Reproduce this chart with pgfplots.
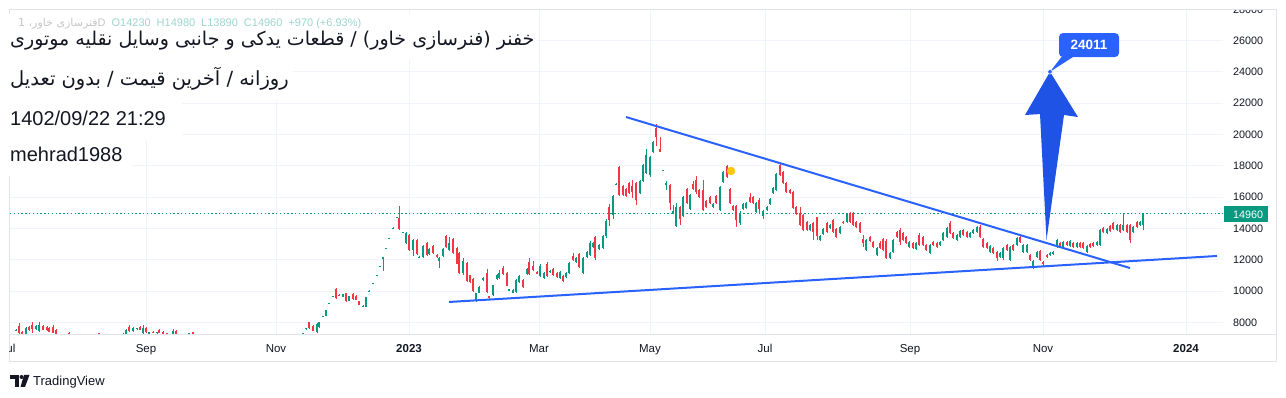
\documentclass[border=0pt]{standalone}
\usepackage{pgfplots}
\pgfplotsset{compat=1.18}
\usepackage{pgfplotstable}
\usepackage{fontspec}
\setmainfont{Liberation Sans}
\newfontfamily\fa[Script=Arabic]{DejaVu Sans}
\TeXXeTstate=1
\definecolor{tvgreen}{HTML}{089981}
\definecolor{tvred}{HTML}{F23645}
\definecolor{tvblue}{HTML}{2962FF}
\definecolor{arrowblue}{HTML}{1E53E5}
\definecolor{gridc}{HTML}{F0F3FA}
\definecolor{framec}{HTML}{E0E3EB}
\definecolor{txt}{HTML}{131722}
\definecolor{dotyellow}{HTML}{F9C80E}

\pgfplotstableread{
x o h l c
16 7490 7560 7460 7530
26 7190 7690 7150 7640
36 7560 7830 7500 7770
39 7450 8000 7380 7830
123 7200 7310 7150 7280
126 7200 7560 7150 7500
133 7420 7700 7380 7640
137 7600 7660 7550 7620
143 7300 7800 7250 7640
149 7190 7400 7150 7380
157 7320 7400 7290 7380
173 7190 7550 7150 7450
189 7190 7330 7150 7300
303 7190 7320 7150 7300
306 7600 7650 7560 7640
317 7380 7960 7300 7900
319 7700 8030 7650 8000
323 8360 8420 8340 8400
326 8400 8800 8380 8780
329 9200 9250 9180 9240
333 9660 9700 9640 9680
343 9620 9820 9600 9800
349 9370 9700 9350 9680
363 8990 9100 8980 9060
366 8990 9650 8980 9620
369 10000 10050 9980 10030
373 10500 10540 10480 10520
377 11000 11050 10980 11030
380 11570 11620 11550 11600
383 12100 12180 11280 12170
386 12730 12780 12710 12760
389 13380 13420 13360 13400
393 14010 14060 13990 14040
397 14700 14750 14680 14730
403 13750 13800 13730 13780
406 13060 13760 13000 13700
413 12620 13320 12240 13260
419 12150 12220 12100 12200
423 12170 12950 12100 12880
429 12360 12750 12300 12680
439 11920 12150 11470 12110
443 12240 12750 12180 12680
449 12620 13450 12550 13100
463 11150 12100 11000 11950
476 9360 9900 9300 9870
479 9900 10300 9880 10260
483 10700 10900 10650 10830
493 9750 10400 9700 10380
497 10770 11100 10700 11020
499 10830 11350 10800 11150
509 10040 10120 10000 10100
513 9870 10100 9850 10060
516 9940 10750 9900 10700
519 10570 11000 10500 10960
527 11080 11450 11000 11400
540 10960 11700 10900 11600
544 10830 11200 10780 11150
550 11200 11350 11150 11300
560 10830 11260 10780 11210
566 10900 11200 10850 11150
569 11150 11850 11100 11790
576 11850 12150 11800 12110
583 11150 12170 11100 12110
587 12170 12550 12120 12490
590 12300 13200 12250 13060
593 12810 13130 12760 13070
599 12680 13000 12630 12940
603 12750 13580 12700 13510
606 13510 14600 13400 14470
613 14860 16130 14600 16070
616 16820 16900 16780 16860
640 16250 17100 16200 17030
643 17030 18100 16980 18050
646 17550 19100 17500 18680
650 17400 18600 17300 18560
653 18880 19580 18820 19520
663 17700 17760 17680 17740
666 16770 17000 16450 16900
673 15000 15500 14900 15100
676 14150 15650 14100 15370
683 14800 16050 14750 16000
690 15240 16200 15180 16130
713 15370 15620 15300 15560
720 15170 16720 15100 16650
723 16960 17650 16900 17600
740 14350 15100 14200 14990
743 15240 15620 15180 15560
746 15300 15690 15250 15620
756 15040 15700 14980 15620
763 14800 15150 14600 15100
767 15170 15430 15100 15370
770 15560 15950 15500 15880
773 16260 16650 16200 16580
776 16450 17550 16400 17470
810 13900 14280 13850 14220
820 13260 13560 13200 13500
823 13640 14020 13580 13960
830 14020 14280 13960 14220
840 13700 14150 13640 14090
847 14410 14990 14350 14920
866 12620 13300 12550 13260
877 12300 12810 12240 12750
890 12110 12490 12050 12430
893 12490 13320 12430 13260
909 12810 13200 12750 13130
916 12680 13130 12620 13070
930 12430 13000 12370 12940
940 12940 13200 12880 13130
943 13260 13770 13200 13700
947 13450 14090 13390 14020
957 13260 13640 13200 13580
960 13450 13900 13390 13830
970 13450 13770 13390 13700
973 13700 13960 13640 13900
977 13770 14150 13700 14090
990 12490 12940 12430 12880
1000 12170 12490 12110 12430
1003 12110 12810 12000 12750
1010 11980 12900 11900 12810
1017 12940 13450 12880 13390
1023 12490 13000 12430 12940
1027 12490 13000 12430 12940
1033 11470 11980 11400 11920
1037 12170 12560 12110 12490
1050 12300 12490 12240 12430
1053 12360 12560 12300 12490
1057 12810 13320 12750 13260
1063 12810 13200 12750 13130
1070 12880 13260 12810 13200
1077 12810 13130 12750 13070
1087 12490 12940 12430 12880
1097 12940 13200 12880 13130
1100 12940 13960 12880 13900
1107 13700 14020 13640 13960
1117 13900 14280 13830 14220
1123 13900 14920 13830 14220
1133 13770 14150 13700 14090
1140 14220 14470 14150 14410
1143 14230 14980 13890 14960
}\up

\pgfplotstableread{
x o h l c
19 7760 7960 7200 7330
22 7400 7450 7150 7190
29 7700 7760 7450 7510
32 7800 8020 7300 7560
43 7760 7830 7500 7520
47 7700 7770 7450 7510
49 7650 7700 7350 7400
53 7700 7800 7300 7330
56 7500 7560 7150 7190
69 7300 7350 7150 7190
99 7300 7330 7150 7200
129 7700 7830 7350 7420
140 7700 7760 7500 7510
146 7640 7700 7300 7350
153 7380 7420 7300 7320
159 7500 7560 7300 7320
163 7380 7420 7150 7190
167 7300 7330 7150 7190
176 7450 7480 7150 7200
193 7360 7380 7150 7190
309 8000 8040 7600 7640
313 7760 7830 7420 7450
336 10130 10200 9480 9550
339 9750 9800 9700 9720
346 9880 9900 9300 9360
353 9810 9850 9450 9500
356 9700 9750 9400 9420
359 9350 9360 9100 9110
399 14660 15430 13900 13960
409 13580 13640 12550 12620
417 13260 13330 12300 12360
427 13070 13130 12250 12300
433 12880 12940 12380 12430
437 12300 12350 12120 12170
446 13510 13580 12750 12810
453 13320 13380 12360 12430
457 12750 12800 11700 11730
459 12400 12490 11100 11150
467 11800 11850 10600 10620
470 11000 11050 10540 10600
473 10800 10830 9920 10000
487 11150 11400 9900 9940
489 9680 9700 9500 9560
503 11470 11600 11000 11080
507 11150 11200 10300 10320
523 10700 10770 10200 10260
529 11850 12100 11050 11090
533 11600 11900 11300 11340
537 11210 11260 11100 11150
547 11700 11850 10900 10960
553 11400 11450 10950 11000
557 11150 11200 10850 10900
563 10960 11000 10600 10640
573 12230 12450 11950 11980
579 12360 12420 11500 11530
595 13450 13500 12000 12110
609 15400 15560 14150 14540
619 17950 17960 16100 16150
623 16700 16760 16100 16150
626 16500 16560 16000 16060
629 16900 16960 16200 16260
632 16700 17100 15940 16300
636 16900 16950 15500 15800
656 20400 20670 19300 19840
660 19080 19840 18860 18880
670 16770 16850 15200 15620
680 15370 15430 14200 14600
687 16520 16580 15560 15620
693 16840 17050 16460 16520
696 17090 17350 16200 16330
699 16450 16520 15940 16000
703 16450 17100 15100 15170
706 15750 15820 15300 15370
710 16000 16060 15560 15620
716 16060 16130 15560 15620
727 17990 18050 17220 17280
730 16520 16580 15560 15620
733 15430 15500 15100 15170
736 15430 15500 14100 14540
750 16000 16260 15630 15690
753 16000 16070 15560 15620
759 15800 15950 15000 15240
780 18050 18180 17350 17410
783 17600 17660 16840 16900
786 16900 16960 16260 16330
790 16450 16520 16200 16260
793 16330 16400 15240 15300
796 15370 15430 14860 14920
800 15000 15370 14150 14200
803 14860 14920 13840 13900
807 14400 14470 13840 13900
813 14350 14400 13250 13770
817 14700 14730 13250 13500
827 14350 14410 13700 13770
833 14540 14600 13700 13770
836 13960 14020 13390 13450
843 14410 14470 14290 14350
850 14990 15050 14350 14410
853 14990 15050 14150 14220
856 14410 14470 14020 14090
860 14350 14410 13700 13770
863 13320 13600 12800 13060
870 13450 13510 13130 13190
873 13130 13200 12750 12810
880 13070 13200 12690 12750
883 13320 13390 12560 12620
886 13200 13300 12050 12110
897 13770 13830 13390 13450
900 13900 14000 12950 13130
903 13700 13770 13200 13260
906 13450 13510 13000 13070
913 13070 13130 12690 12750
919 13580 13700 12880 12940
923 13450 13510 12880 12940
926 12940 13000 12560 12620
933 13130 13200 12880 12940
937 13070 13130 12750 12810
950 14350 14450 13640 13700
953 13700 13770 13330 13390
963 13900 13960 13520 13580
967 13770 13830 13390 13450
980 14090 14200 13390 13450
983 13320 13390 12750 12810
987 13070 13130 12690 12750
993 12750 12810 12370 12430
997 12490 12560 11900 12110
1007 12940 13000 12560 12620
1013 12940 13000 12560 12620
1020 13450 13650 13070 13130
1030 12300 12360 11920 11980
1040 12560 12620 11920 11980
1043 11850 11900 11530 11790
1047 12300 12360 12110 12170
1060 13070 13130 12750 12810
1067 13130 13200 12880 12940
1073 13070 13130 12750 12810
1080 13070 13130 12750 12810
1083 13070 13130 12690 12750
1090 13000 13070 12750 12810
1093 13070 13130 12820 12880
1103 14020 14090 13700 13770
1110 14150 14220 13770 13830
1113 14350 14410 13900 13960
1120 14220 14280 13700 13770
1127 14220 14280 13700 13770
1130 14220 14280 13100 13260
1137 14410 14470 14020 14090
}\down

\pgfplotsset{
  cwick/.style={draw=none, mark=none, forget plot,
    error bars/.cd, y dir=both, y explicit, error mark=none,
    error bar style={line width=1pt, draw=#1, solid}},
  cbody/.style={draw=none, mark=none, forget plot,
    error bars/.cd, y dir=both, y explicit, error mark=none,
    error bar style={line width=2.8pt, draw=#1, solid}},
}

\begin{document}
\begin{tikzpicture}[x=1pt,y=1pt]
\useasboundingbox (0,0) rectangle (1286,398);
\fill[white] (0,0) rectangle (1286,398);
\begin{axis}[
  at={(10pt,63pt)}, anchor=south west,
  width=1213pt, height=325pt, scale only axis,
  xmin=10, xmax=1223, ymin=7190, ymax=27960,
  axis line style={draw=none}, tick style={draw=none},
  scaled y ticks=false, scaled x ticks=false,
  xtick={146,276,409,539,650,765,910,1043,1186},
  xticklabels={Sep,Nov,\textbf{2023},Mar,May,Jul,Sep,Nov,\textbf{2024}},
  ytick={8000,10000,12000,14000,16000,18000,20000,22000,24000,26000},
  yticklabels={8000,10000,12000,14000,16000,18000,20000,22000,24000,26000},
  grid=major, major grid style={draw=gridc, line width=1pt},
  yticklabel pos=right,
  yticklabel style={anchor=west, inner sep=0pt, xshift=10pt, font=\fontsize{10.8}{12}\selectfont, text=txt},
  xticklabel style={anchor=base, inner sep=0pt, yshift=-17.5pt, font=\fontsize{11.5}{13}\selectfont, text=txt},
]
\addplot[tvgreen, line width=1.4pt, dash pattern=on 1.4pt off 2.4pt, forget plot] coordinates {(10,14960) (1223,14960)};
\addplot[cwick=tvgreen] table[x=x, y expr={(\thisrow{h}+\thisrow{l})/2}, y error expr={(\thisrow{h}-\thisrow{l})/2}] {\up};
\addplot[cwick=tvred] table[x=x, y expr={(\thisrow{h}+\thisrow{l})/2}, y error expr={(\thisrow{h}-\thisrow{l})/2}] {\down};
\addplot[cbody=tvgreen] table[x=x, y expr={(\thisrow{o}+\thisrow{c})/2}, y error expr={abs(\thisrow{c}-\thisrow{o})/2}] {\up};
\addplot[cbody=tvred] table[x=x, y expr={(\thisrow{o}+\thisrow{c})/2}, y error expr={abs(\thisrow{c}-\thisrow{o})/2}] {\down};
\addplot[only marks, mark=*, mark size=4pt, color=dotyellow, forget plot] coordinates {(731,17670)};
% trend lines
\addplot[tvblue, line width=2pt, forget plot] coordinates {(626,21120) (1130,11470)};
\addplot[tvblue, line width=2pt, forget plot] coordinates {(449,9300) (1217,12240)};
% arrow
\fill[arrowblue] (axis cs:1050,24011) -- (axis cs:1078,21120) -- (axis cs:1064,21250) -- (axis cs:1046.5,13260) -- (axis cs:1040,21310) -- (axis cs:1025,21250) -- cycle;
% callout
\fill[tvblue] (axis cs:1062,25000) -- (axis cs:1074,25000) -- (axis cs:1050,24011) -- cycle;
\fill[tvblue, rounded corners=4pt] (axis cs:1059,24953) rectangle (axis cs:1119,26486);
\filldraw[fill=tvblue, draw=white, line width=0.6pt] (axis cs:1050,24011) circle (2.3pt);
\node[text=white, font=\bfseries\fontsize{13.5}{14}\selectfont, inner sep=0pt] at (axis cs:1089,25720) {24011};
\end{axis}
% frame
\draw[framec, line width=1pt] (9,36) rectangle (1276,388);
\draw[framec, line width=1pt] (9,63) -- (1276,63);
% price label
\fill[tvgreen] (1224,175.5) rectangle (1268,191.5);
\node[anchor=west, inner sep=0pt, text=white, font=\fontsize{10.8}{12}\selectfont] at (1233,183.5) {14960};
\begin{scope}
\clip (1224,0) rectangle (1286,387.5);
\node[anchor=west, inner sep=0pt, text=txt, font=\fontsize{10.8}{12}\selectfont] at (1233,388.7) {28000};
\end{scope}
\begin{scope}
\clip (9.5,0) rectangle (100,60);
\node[anchor=base, inner sep=0pt, text=txt, font=\fontsize{11.5}{13}\selectfont] at (8,45.5) {Jul};
\end{scope}
% white boxes behind title
\fill[white] (8,338) rectangle (537,384);
\fill[white] (8,298) rectangle (293,338);
\fill[white] (8,258) rectangle (182,298);
\fill[white] (8,222) rectangle (132,258);
% legend line (faint)
\node[anchor=base west, inner sep=0pt, text=gray!45, font=\fontsize{11}{12}\selectfont] at (18,371) {{\fa\beginR فنرسازی خاور، 1\endR}D\hspace{6pt}\textcolor{tvgreen!40}{O14230\hspace{6pt}H14980\hspace{6pt}L13890\hspace{6pt}C14960\hspace{6pt}+970 (+6.93\%)}};
% title lines
\node[anchor=base west, inner sep=0pt, text=txt, font=\fa\fontsize{19}{20}\selectfont] at (10,352) {\beginR خفنر (فنرسازی خاور) / قطعات یدکی و جانبی وسایل نقلیه موتوری\endR};
\node[anchor=base west, inner sep=0pt, text=txt, font=\fa\fontsize{19.5}{20}\selectfont] at (10,312) {\beginR روزانه / آخرین قیمت / بدون تعدیل\endR};
\node[anchor=base west, inner sep=0pt, text=txt, font=\fontsize{20}{22}\selectfont] at (10,272) {1402/09/22 21:29};
\node[anchor=base west, inner sep=0pt, text=txt, font=\fontsize{20}{22}\selectfont] at (10,236) {mehrad1988};
% TradingView logo and name
\fill[txt] (10,23) rectangle (18.5,19);
\fill[txt] (14.5,19) rectangle (18.5,11);
\fill[txt] (21.5,21) circle (2pt);
\fill[txt] (24,23) -- (29.5,23) -- (25,11) -- (20.5,11) -- cycle;
\node[anchor=base west, inner sep=0pt, text=txt, font=\fontsize{13}{14}\selectfont] at (33,12) {TradingView};
\end{tikzpicture}
\end{document}
